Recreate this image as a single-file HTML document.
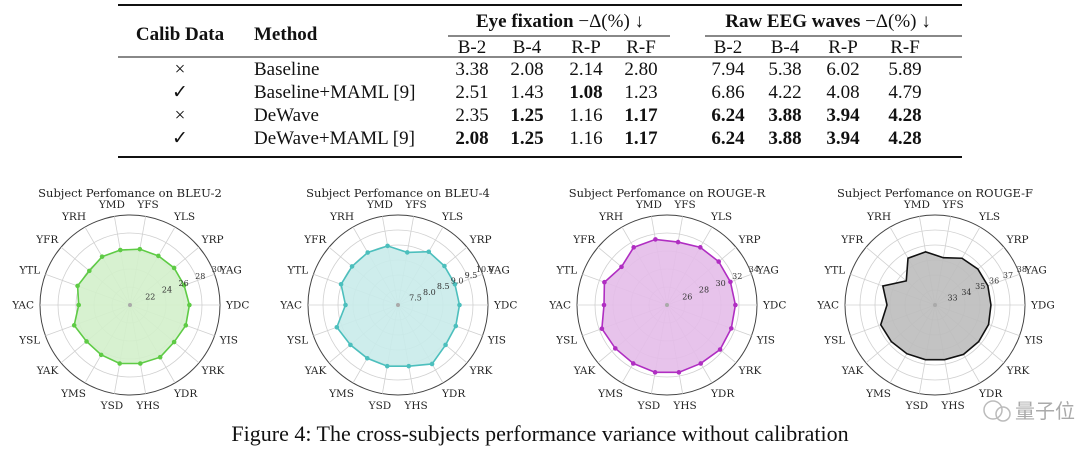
<!DOCTYPE html>
<html><head><meta charset="utf-8"><style>
body{margin:0;background:#fff;width:1080px;height:459px;overflow:hidden}
svg{display:block}
.t{font-family:"Liberation Serif",serif;font-size:19px;fill:#111}
.b{font-weight:bold}
.rl{font-family:"DejaVu Serif","Liberation Serif",serif;font-size:10.5px;fill:#222}
.tk{font-family:"DejaVu Serif","Liberation Serif",serif;font-size:8px;fill:#333}
.ti{font-family:"DejaVu Serif","Liberation Serif",serif;font-size:11.5px;fill:#222}
</style></head><body>
<svg id="root" width="1080" height="459">
<g>
<line x1="118" y1="5" x2="962" y2="5" stroke="#111" stroke-width="2"/>
<text class="t b" x="180" y="40" text-anchor="middle">Calib Data</text>
<text class="t b" x="254" y="40">Method</text>
<text class="t" x="560" y="27" text-anchor="middle"><tspan class="b">Eye fixation</tspan> −Δ(%) ↓</text>
<text class="t" x="828" y="27" text-anchor="middle"><tspan class="b">Raw EEG waves</tspan> −Δ(%) ↓</text>
<line x1="448" y1="36" x2="670" y2="36" stroke="#111" stroke-width="1"/>
<line x1="705" y1="36" x2="962" y2="36" stroke="#111" stroke-width="1"/>
<g id="hdr"></g>
<line x1="118" y1="57" x2="962" y2="57" stroke="#111" stroke-width="1"/>
<g id="rows"></g>
<line x1="118" y1="157" x2="962" y2="157" stroke="#111" stroke-width="2"/>
</g>
<g id="charts"></g>
<g>
<circle cx="993" cy="410" r="9" fill="none" stroke="#bbb" stroke-width="1.5"/>
<circle cx="1003" cy="414" r="7" fill="none" stroke="#bbb" stroke-width="1.5"/>
<text x="1015" y="418" font-family="'Noto Sans CJK SC',sans-serif" font-size="20" fill="#aaa">量子位</text>
</g>
<text class="t" x="540" y="441" text-anchor="middle" style="font-size:22px">Figure 4: The cross-subjects performance variance without calibration</text>
</svg>
<script>
const NS="http://www.w3.org/2000/svg";
function mk(tag,attrs,parent,txt){const e=document.createElementNS(NS,tag);for(const k in attrs)e.setAttribute(k,attrs[k]);if(txt!==undefined)e.textContent=txt;parent.appendChild(e);return e;}
const colX=[472,527,586,641,728,785,843,905];
const colHeads=["B-2","B-4","R-P","R-F","B-2","B-4","R-P","R-F"];
const rowCalib=["×","✓","×","✓"];
const rowMethods=["Baseline","Baseline+MAML [9]","DeWave","DeWave+MAML [9]"];
const rowVals=[["3.38","2.08","2.14","2.80","7.94","5.38","6.02","5.89"],["2.51","1.43","1.08","1.23","6.86","4.22","4.08","4.79"],["2.35","1.25","1.16","1.17","6.24","3.88","3.94","4.28"],["2.08","1.25","1.16","1.17","6.24","3.88","3.94","4.28"]];
const rowBold=[[0,0,0,0,0,0,0,0],[0,0,1,0,0,0,0,0],[0,1,0,1,1,1,1,1],[1,1,0,1,1,1,1,1]];
const rowY=[75,98,121,144];
const hdr=document.getElementById('hdr');
colHeads.forEach((h,i)=>{const e=mk('text',{class:'t',x:colX[i],y:53,'text-anchor':'middle'},hdr,h);

});
const rows=document.getElementById('rows');
rowMethods.forEach((m,r)=>{
 const g=mk('g',{},rows);
 
 
 mk('text',{class:'t',x:180,y:rowY[r],'text-anchor':'middle'},g,rowCalib[r]);
 mk('text',{class:'t',x:254,y:rowY[r]},g,m);
 rowVals[r].forEach((v,i)=>mk('text',{class:'t'+(rowBold[r][i]?' b':''),x:colX[i],y:rowY[r],'text-anchor':'middle'},g,v));
});
const subjects=["YDC","YAG","YRP","YLS","YFS","YMD","YRH","YFR","YTL","YAC","YSL","YAK","YMS","YSD","YHS","YDR","YRK","YIS"];
const bleu2=[26.6,26.4,26.4,26.3,26.3,26.2,26.2,25.9,26.2,25.7,26.6,26.3,26.4,26.6,26.6,26.7,26.4,26.6];
const bleu4=[9.05,9.02,9.02,9.05,8.78,9.0,9.02,9.0,9.02,8.75,9.17,9.07,9.05,9.07,9.07,9.27,9.07,9.05];
const rougeR=[31.6,31.5,31.5,31.4,31.1,31.4,31.4,30.6,31.4,31.0,31.7,31.5,31.5,31.6,31.6,31.5,31.7,31.6];
const rougeF=[35.73,35.75,35.73,35.6,35.2,35.6,35.6,34.5,35.7,35.2,35.85,35.8,35.75,35.7,35.7,35.8,35.8,35.8];
const ticks1=["22","24","26","28","30"];
const ticks2=["7.5","8.0","8.5","9.0","9.5","10.0"];
const ticks3=["26","28","30","32","34"];
const ticks4=["33","34","35","36","37","38"];
const charts=[
 {cx:130,title:"Subject Perfomance on BLEU-2",vals:bleu2,ticks:ticks1,min:20,max:30,stroke:"#5ecb45",fill:"#d3efcb",mk:true,lastLbl:"YDC",name:"bleu2"},
 {cx:398,title:"Subject Perfomance on BLEU-4",vals:bleu4,ticks:ticks2,min:7,max:10,stroke:"#4cbfbd",fill:"#c9ebea",mk:true,lastLbl:"YDC",name:"bleu4"},
 {cx:667,title:"Subject Perfomance on ROUGE-R",vals:rougeR,ticks:ticks3,min:24,max:34,stroke:"#b02ec2",fill:"#e4bde9",mk:true,lastLbl:"YDC",name:"rouge-r"},
 {cx:935,title:"Subject Perfomance on ROUGE-F",vals:rougeF,ticks:ticks4,min:32,max:38,stroke:"#111",fill:"#bdbdbd",mk:false,lastLbl:"YDG",name:"rouge-f"}];
const CY=305,R=90;
const cg=document.getElementById('charts');
charts.forEach(c=>{
 const g=mk('g',{},cg);
 
 
 const rs=v=>(v-c.min)/(c.max-c.min)*R;
 const pt=(v,i)=>{const a=i*20*Math.PI/180;const r=rs(v);return [c.cx+r*Math.cos(a),CY-r*Math.sin(a)];};
 const t=mk('text',{class:'ti',x:c.cx,y:197,'text-anchor':'middle'},g,c.title);
 
 
 const n=c.ticks.length;
 for(let k=1;k<=n;k++)mk('circle',{cx:c.cx,cy:CY,r:R*k/n,fill:'none',stroke:k==n?'#444':'#d0d0d0','stroke-width':k==n?1:0.8},g);
 subjects.forEach((s,i)=>{const a=i*20*Math.PI/180;
  mk('line',{x1:c.cx,y1:CY,x2:c.cx+R*Math.cos(a),y2:CY-R*Math.sin(a),stroke:'#d0d0d0','stroke-width':0.8},g);
  const lx=c.cx+(R+14)*Math.cos(a),ly=CY-(R+12)*Math.sin(a)+3.5;
  const l=mk('text',{class:'rl',x:lx,y:ly,'text-anchor':Math.abs(Math.cos(a))<0.2?'middle':(Math.cos(a)>0?'start':'end')},g,i==0?c.lastLbl:s);
  if(Math.abs(Math.cos(a))>=0.2)l.setAttribute('x',lx+(Math.cos(a)>0?-8:8));
  
  
 });
 const poly=mk('polygon',{points:c.vals.map((v,i)=>pt(v,i).join(',')).join(' '),fill:c.fill,stroke:c.stroke,'stroke-width':1.6,'fill-opacity':0.9},g);
 
 
 if(c.mk)c.vals.forEach((v,i)=>{const p=pt(v,i);const d=mk('circle',{cx:p[0],cy:p[1],r:2.3,fill:c.stroke},g);
  
  });
 c.ticks.forEach((tk,k)=>{const a=22.5*Math.PI/180;const r=R*(k+1)/n+4;
  const e=mk('text',{class:'tk',x:c.cx+r*Math.cos(a),y:CY-r*Math.sin(a)+3,'text-anchor':'middle'},g,tk);
  
  });
 mk('circle',{cx:c.cx,cy:CY,r:2,fill:'#aaa'},g);
});
</script>
</body></html>
